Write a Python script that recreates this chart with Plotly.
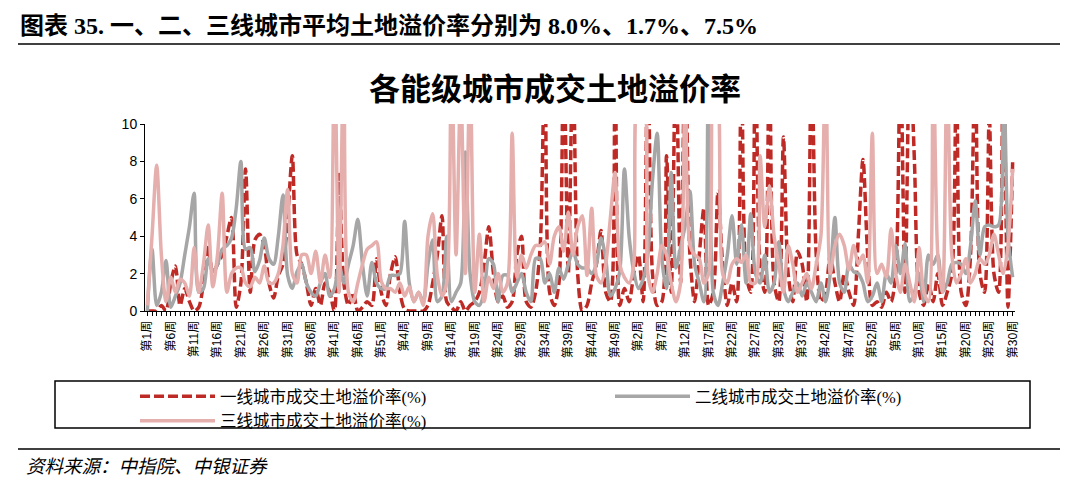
import plotly.graph_objects as go

# week counts of the four years shown on the x axis
year_weeks = [52, 52, 52, 30]
week_labels = [f"第{w}周" for n in year_weeks for w in range(1, n + 1)]

tier1 = [
    0, 0, 0, 0.3, 0, 1.5, 2.4, 0.3, 1.2, 0.5,
    0, 0.2, 1.5, 3.5, 2.0, 2.5, 3.0, 4.0, 5.0, 0.2,
    1.5, 7.6, 1.0, 3.8, 4.1, 3.5, 1.5, 0.7, 1.9, 2.5,
    5.0, 8.3, 3.0, 2.5, 1.5, 0.3, 1.2, 0.3, 1.5, 1.0,
    0, 7.3, 1.5, 0.3, 1.0, 0, 0.2, 0.5, 0.3, 2.8,
    1.0, 0.3, 2.0, 2.9, 1.0, 0.1, 0, 0, 0, 0,
    0.3, 1.5, 3.0, 5.1, 0.5, 0.2, 0, 0.5, 0, 0.3,
    0.5, 1.0, 2.5, 4.5, 2.0, 0.5, 0.8, 0.2, 0.5, 3.0,
    4.0, 0.5, 0.2, 1.0, 3.5, 14, 1.0, 0.3, 1.5, 14,
    2.0, 14, 2.0, 0, 0.3, 1.5, 2.5, 4.3, 1.0, 0.5,
    14, 0.3, 1.2, 0.5, 2.0, 3.0, 0.5, 14, 2.0, 0.3,
    0.5, 8.3, 1.0, 14, 1.5, 14, 3.0, 0.5, 3.0, 5.5,
    0.3, 1.0, 6.4, 2.5, 0.3, 1.5, 0.5, 14, 2.0, 1.0,
    14, 2.5, 1.0, 14, 1.5, 0.5, 9.3, 2.0, 0.5, 3.2,
    2.5, 0.5, 14, 3.0, 0.5, 1.0, 3.0, 1.5, 0.5, 2.0,
    1.0, 0.3, 4.0, 8.1, 3.0, 0.3, 0.5, 0.2, 1.0, 0.5,
    2.0, 14, 1.0, 14, 8.0, 1.0, 0.3, 1.5, 0.5, 2.0,
    0.3, 1.0, 2.0, 14, 1.0, 0.3, 3.0, 14, 2.0, 1.0,
    10.5, 2.0, 1.0, 14, 0.2, 8.0,
]

tier2 = [
    0, 3.3, 0.3, 1.0, 2.7, 0.2, 0.8, 1.5, 3.0, 4.5,
    6.3, 1.0, 1.2, 2.8, 2.1, 2.5, 3.3, 3.5, 3.9, 5.5,
    8.0, 3.3, 3.4, 2.1, 2.7, 3.9, 2.8, 2.5, 4.0, 6.2,
    1.9, 1.2, 2.1, 2.5, 1.5, 1.0, 0.8, 1.5, 2.0, 0.8,
    1.2, 2.5, 1.5, 2.5, 3.5, 4.9, 2.5, 0.8, 2.6, 1.5,
    1.2, 1.2, 1.9, 1.9, 2.0, 4.8, 1.5, 0.5, 1.0, 0.5,
    2.5, 3.8, 0.5, 0.8, 4.0, 0.5, 1.0, 1.5, 8.5, 2.0,
    0.5, 0.3, 1.0, 2.8, 2.5, 0.5, 1.9, 1.9, 1.0, 1.5,
    2.0, 1.0, 0.5, 2.8, 2.8, 1.5, 2.0, 1.0, 2.3, 1.7,
    2.5, 3.2, 2.5, 2.3, 2.3, 2.0, 2.5, 3.9, 2.8, 0.8,
    1.2, 2.1, 7.6, 4.0, 2.1, 1.2, 1.7, 3.0, 7.0, 9.5,
    2.8, 1.2, 7.4, 2.3, 3.4, 4.6, 6.4, 2.5, 1.5, 0.5,
    14, 1.0, 0.3, 1.5, 3.0, 5.1, 2.5, 4.6, 1.5, 5.2,
    2.0, 1.5, 3.0, 1.0, 1.5, 3.7, 1.2, 0.5, 1.0, 1.5,
    0.8, 1.5, 1.0, 0.5, 1.5, 0.5, 2.0, 5.0, 1.5, 1.0,
    2.5, 2.1, 2.0, 1.5, 0.5, 0.8, 1.5, 0.5, 2.0, 1.5,
    3.5, 2.0, 3.6, 0.5, 1.0, 2.0, 0.5, 3.0, 2.5, 3.0,
    1.0, 1.5, 2.5, 2.6, 2.5, 2.0, 3.5, 5.9, 3.0, 4.5,
    4.6, 4.5, 4.6, 14, 4.0, 1.8,
]

tier3 = [
    0.3, 4.0, 7.8, 3.0, 0.5, 1.8, 1.0, 1.7, 1.5, 0.8,
    3.4, 1.0, 2.5, 4.6, 1.3, 3.0, 6.3, 1.0, 2.0, 2.3,
    2.3, 1.5, 1.3, 1.8, 1.5, 2.4, 1.5, 1.5, 2.0, 3.5,
    6.5, 2.0, 1.5, 3.0, 3.0, 2.0, 3.2, 1.5, 3.0, 1.8,
    14, 1.0, 14, 1.0, 0.5, 1.5, 2.5, 3.3, 3.5, 3.7,
    1.6, 1.2, 1.2, 1.0, 1.5, 0.8, 1.3, 0.5, 1.0, 0.3,
    4.0, 5.2, 1.9, 0.8, 1.5, 14, 3.0, 12, 2.0, 13,
    1.0, 4.1, 0.5, 1.8, 1.2, 2.0, 1.0, 1.5, 9.5, 1.8,
    3.0, 2.3, 3.0, 3.5, 3.5, 3.7, 2.5, 4.0, 4.5, 3.2,
    5.3, 3.0, 4.5, 5.1, 1.9, 5.5, 1.9, 1.5, 2.5, 5.0,
    7.4, 2.5, 1.8, 1.5, 2.5, 12, 12, 2.0, 1.0, 2.0,
    3.5, 3.0, 1.5, 0.5, 1.5, 14, 3.5, 3.0, 2.8, 1.5,
    2.0, 13, 12, 2.0, 1.5, 2.5, 2.8, 2.6, 3.0, 1.5,
    1.5, 8.3, 4.5, 6.7, 4.0, 2.5, 1.0, 3.5, 2.5, 1.0,
    1.5, 2.0, 1.2, 2.5, 4.0, 14, 2.0, 3.5, 4.1, 3.5,
    2.2, 3.5, 2.5, 3.0, 1.5, 9.5, 2.0, 2.5, 1.8, 4.4,
    2.0, 1.0, 2.5, 1.5, 0.5, 3.4, 1.0, 0.5, 14, 3.0,
    1.0, 14, 3.0, 1.5, 2.0, 2.8, 1.5, 2.0, 2.8, 2.5,
    3.0, 4.1, 3.0, 2.0, 3.5, 7.6,
]

names = ["一线城市成交土地溢价率(%)", "二线城市成交土地溢价率(%)", "三线城市成交土地溢价率(%)"]
colors = ["#BE2A25", "#A6A6A6", "#E5AFAD"]

x_idx = list(range(len(week_labels)))

# plot area in pixels: x 145..1015, y 124..311
L, T, W, H = 145, 124, 870, 187


def px_x(px):
    return (px - L) / W


def px_y(py):
    return (T + H - py) / H


fig = go.Figure()
# the first entry is widest so the second one lands in the right half of row one
fig.add_trace(go.Scatter(x=x_idx, y=tier1, name=names[0], mode="lines", legendwidth=385,
                         line=dict(color=colors[0], width=3.5, dash="10px,4px", shape="spline", smoothing=0.8)))
fig.add_trace(go.Scatter(x=x_idx, y=tier2, name=names[1], mode="lines", legendwidth=240,
                         line=dict(color=colors[1], width=3.5, shape="spline", smoothing=0.8)))
fig.add_trace(go.Scatter(x=x_idx, y=tier3, name=names[2], mode="lines", legendwidth=240,
                         line=dict(color=colors[2], width=3.5, shape="spline", smoothing=0.8)))

tick_font = dict(family="Liberation Sans, Noto Sans CJK SC", size=12, color="black")
serif = "Liberation Serif, Noto Sans CJK SC"

fig.update_xaxes(
    range=[-0.5, len(week_labels) - 0.5], showgrid=False, zeroline=False,
    showline=True, linecolor="black", linewidth=1,
    ticks="outside", ticklen=4, tickcolor="black",
    tickmode="array", tickvals=x_idx,
    ticktext=[lab if i % 5 == 0 else "" for i, lab in enumerate(week_labels)],
    tickangle=-90, tickfont=tick_font,
)
fig.update_yaxes(
    range=[0, 10], dtick=2, showgrid=False, zeroline=False,
    showline=True, linecolor="black", linewidth=1,
    ticks="outside", ticklen=4, tickcolor="black",
    tickfont=dict(family="Liberation Sans", size=14, color="black"),
)

fig.update_layout(
    width=1080, height=490,
    margin=dict(l=L, r=1080 - L - W, t=T, b=490 - T - H),
    paper_bgcolor="white", plot_bgcolor="white",
    showlegend=True,
    # legend anchored just left of the plot area so two entries fit per row
    legend=dict(orientation="h", x=px_x(135), y=px_y(379), xanchor="left", yanchor="top",
                itemwidth=75, font=dict(family=serif, size=16.5, color="black"),
                bgcolor="rgba(0,0,0,0)", tracegroupgap=0),
    shapes=[
        dict(type="line", xref="paper", yref="paper", x0=px_x(18), x1=px_x(1060), y0=px_y(44), y1=px_y(44),
             line=dict(color="black", width=1.5)),
        dict(type="rect", xref="paper", yref="paper", x0=px_x(55), x1=px_x(1030), y0=px_y(428), y1=px_y(381),
             line=dict(color="black", width=1.5)),
        dict(type="line", xref="paper", yref="paper", x0=px_x(18), x1=px_x(1060), y0=px_y(449), y1=px_y(449),
             line=dict(color="black", width=1.5)),
    ],
    annotations=[
        dict(text="<b>图表 35. 一、二、三线城市平均土地溢价率分别为 8.0%、1.7%、7.5%</b>",
             xref="paper", yref="paper", x=px_x(18), y=px_y(26), xanchor="left", yanchor="middle",
             showarrow=False, font=dict(family=serif, size=24, color="black")),
        dict(text="<b>各能级城市成交土地溢价率</b>",
             xref="paper", yref="paper", x=px_x(555), y=px_y(90), xanchor="center", yanchor="middle",
             showarrow=False, font=dict(family=serif, size=31, color="black")),
        dict(text="<i>资料来源：中指院、中银证券</i>",
             xref="paper", yref="paper", x=px_x(24), y=px_y(467), xanchor="left", yanchor="middle",
             showarrow=False, font=dict(family=serif, size=18.5, color="black")),
    ],
)

# drop the browser's default page margin so the figure sits at the window origin
fig.write_html("out.html", config={"displayModeBar": False},
               post_script="document.body.style.margin = '0';")
